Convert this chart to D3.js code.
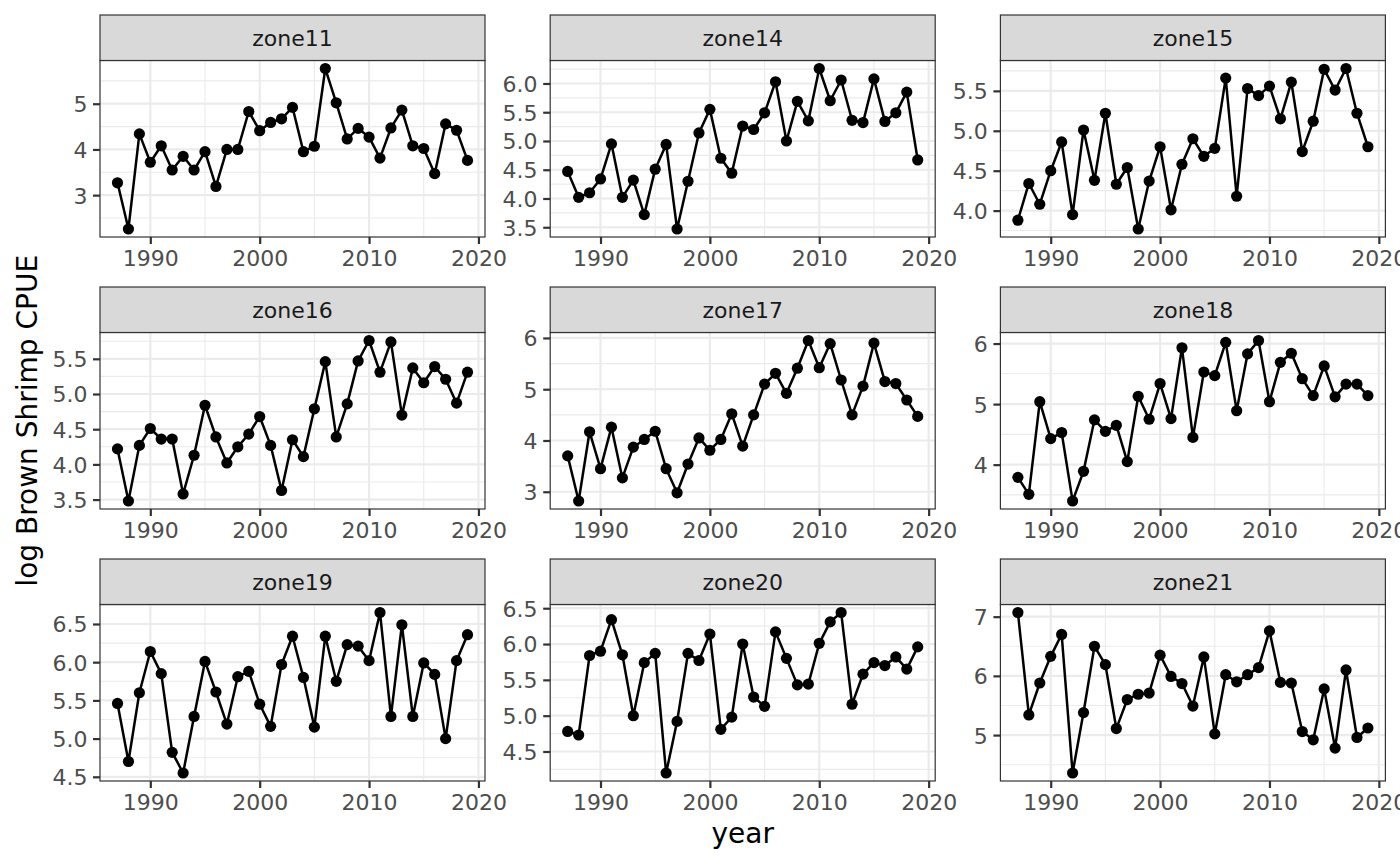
<!DOCTYPE html>
<html>
<head>
<meta charset="utf-8">
<script src="https://cdn.jsdelivr.net/npm/d3@7"></script>
<style>
  html, body { margin: 0; padding: 0; background: #ffffff; }
  svg { display: block; font-family: "DejaVu Sans", sans-serif; }
</style>
</head>
<body>
<svg id="chart" width="1400" height="865"></svg>
<script>
// ---------------- data ----------------
const years = [1987,1988,1989,1990,1991,1992,1993,1994,1995,1996,1997,1998,1999,2000,2001,2002,2003,2004,2005,2006,2007,2008,2009,2010,2011,2012,2013,2014,2015,2016,2017,2018,2019];

const zoneNames = ["zone11","zone14","zone15","zone16","zone17","zone18","zone19","zone20","zone21"];

const zone11 = [3.27,2.26,4.34,3.72,4.08,3.55,3.85,3.55,3.95,3.19,4.00,4.00,4.83,4.41,4.59,4.67,4.92,3.95,4.07,5.77,5.02,4.23,4.46,4.27,3.81,4.47,4.86,4.08,4.02,3.47,4.56,4.42,3.76];
const zone14 = [4.47,4.02,4.10,4.34,4.95,4.02,4.32,3.72,4.51,4.94,3.47,4.30,5.14,5.55,4.70,4.44,5.26,5.20,5.49,6.03,5.00,5.69,5.35,6.26,5.70,6.06,5.36,5.32,6.08,5.34,5.49,5.85,4.67];
const zone15 = [3.88,4.34,4.08,4.50,4.86,3.95,5.01,4.38,5.22,4.33,4.54,3.77,4.37,4.80,4.01,4.58,4.90,4.68,4.78,5.66,4.18,5.53,5.44,5.56,5.15,5.61,4.74,5.12,5.77,5.51,5.78,5.22,4.80];
const zone16 = [4.22,3.48,4.27,4.51,4.36,4.36,3.58,4.13,4.84,4.39,4.02,4.25,4.43,4.68,4.27,3.63,4.35,4.11,4.79,5.46,4.39,4.86,5.47,5.76,5.31,5.74,4.70,5.37,5.16,5.39,5.21,4.87,5.31];
const zone17 = [3.70,2.82,4.17,3.45,4.26,3.27,3.87,4.02,4.18,3.45,2.98,3.54,4.05,3.81,4.02,4.52,3.89,4.50,5.10,5.31,4.92,5.41,5.95,5.42,5.89,5.18,4.50,5.06,5.90,5.15,5.11,4.79,4.47];
const zone18 = [3.79,3.51,5.04,4.43,4.53,3.40,3.89,4.74,4.55,4.65,4.05,5.13,4.75,5.34,4.76,5.93,4.45,5.53,5.47,6.02,4.89,5.83,6.05,5.04,5.69,5.84,5.42,5.14,5.63,5.12,5.33,5.33,5.14];
const zone19 = [5.46,4.70,5.60,6.14,5.85,4.82,4.55,5.29,6.01,5.61,5.19,5.81,5.88,5.45,5.16,5.97,6.34,5.80,5.15,6.34,5.75,6.23,6.21,6.02,6.65,5.29,6.49,5.29,5.99,5.84,5.00,6.02,6.36];
const zone20 = [4.78,4.73,5.84,5.90,6.34,5.85,5.00,5.74,5.87,4.20,4.92,5.87,5.77,6.14,4.81,4.98,6.00,5.26,5.13,6.17,5.80,5.43,5.44,6.01,6.31,6.44,5.16,5.58,5.74,5.70,5.82,5.65,5.96];
const zone21 = [7.07,5.34,5.88,6.33,6.70,4.36,5.38,6.50,6.19,5.11,5.60,5.69,5.71,6.35,5.99,5.87,5.49,6.32,5.02,6.02,5.90,6.02,6.14,6.76,5.89,5.88,5.06,4.92,5.78,4.78,6.10,4.96,5.12];

const zoneValues = [zone11, zone14, zone15, zone16, zone17, zone18, zone19, zone20, zone21];

// y tick labels per panel (free scales)
const yTicks = [
  ["3","4","5"],
  ["3.5","4.0","4.5","5.0","5.5","6.0"],
  ["4.0","4.5","5.0","5.5"],
  ["3.5","4.0","4.5","5.0","5.5"],
  ["3","4","5","6"],
  ["4","5","6"],
  ["4.5","5.0","5.5","6.0","6.5"],
  ["4.5","5.0","5.5","6.0","6.5"],
  ["5","6","7"]
];
const xTicks = ["1990","2000","2010","2020"];
const xMinor = [1985, 1995, 2005, 2015, 2025];

const xTitle = "year";
const yTitle = "log Brown Shrimp CPUE";

// ---------------- layout ----------------
const W = 1400, H = 865;
const colLeft = [100, 550.2, 1000.4];
const panelW = 385;
const rowTop = [15, 287, 559];
const stripH = 45.5;
const panelH = 176.5;

const svg = d3.select("#chart");

function expandDomain(ext) {
  const r = ext[1] - ext[0];
  return [ext[0] - 0.05 * r, ext[1] + 0.05 * r];
}

const xExt = expandDomain(d3.extent(years));

zoneNames.forEach((name, i) => {
  const col = i % 3, row = Math.floor(i / 3);
  const px = colLeft[col];
  const sy = rowTop[row];
  const py = sy + stripH;
  const vals = zoneValues[i];

  const x = d3.scaleLinear().domain(xExt).range([px, px + panelW]);
  const y = d3.scaleLinear().domain(expandDomain(d3.extent(vals))).range([py + panelH, py]);

  const g = svg.append("g");

  // panel background
  g.append("rect").attr("x", px).attr("y", py).attr("width", panelW).attr("height", panelH)
    .attr("fill", "#ffffff");

  // minor grid (y): midpoints between major ticks, extended
  const majors = yTicks[i].map(Number);
  const step = majors[1] - majors[0];
  const yMinor = [];
  for (let k = -1; k < majors.length; k++) {
    yMinor.push(majors[0] + (k + 0.5) * step);
  }
  const [d0, d1] = y.domain();
  g.selectAll(".ymin").data(yMinor.filter(v => v >= d0 && v <= d1)).enter().append("line")
    .attr("x1", px).attr("x2", px + panelW)
    .attr("y1", d => y(d)).attr("y2", d => y(d))
    .attr("stroke", "#EBEBEB").attr("stroke-width", 1.1);
  g.selectAll(".xmin").data(xMinor.filter(v => v >= xExt[0] && v <= xExt[1])).enter().append("line")
    .attr("y1", py).attr("y2", py + panelH)
    .attr("x1", d => x(d)).attr("x2", d => x(d))
    .attr("stroke", "#EBEBEB").attr("stroke-width", 1.1);

  // major grid
  g.selectAll(".ymaj").data(majors).enter().append("line")
    .attr("x1", px).attr("x2", px + panelW)
    .attr("y1", d => y(d)).attr("y2", d => y(d))
    .attr("stroke", "#EBEBEB").attr("stroke-width", 2.2);
  g.selectAll(".xmaj").data(xTicks.map(Number)).enter().append("line")
    .attr("y1", py).attr("y2", py + panelH)
    .attr("x1", d => x(d)).attr("x2", d => x(d))
    .attr("stroke", "#EBEBEB").attr("stroke-width", 2.2);

  // data line
  const pts = years.map((yr, k) => ({ yr, v: vals[k] }));
  g.append("path").datum(pts)
    .attr("fill", "none").attr("stroke", "#000000").attr("stroke-width", 2.5)
    .attr("stroke-linejoin", "round")
    .attr("d", d3.line().x(d => x(d.yr)).y(d => y(d.v)));
  g.selectAll(".pt").data(pts).enter().append("circle")
    .attr("cx", d => x(d.yr)).attr("cy", d => y(d.v)).attr("r", 5.6)
    .attr("fill", "#000000");

  // panel border
  g.append("rect").attr("x", px).attr("y", py).attr("width", panelW).attr("height", panelH)
    .attr("fill", "none").attr("stroke", "#333333").attr("stroke-width", 1.2);

  // strip
  g.append("rect").attr("x", px).attr("y", sy).attr("width", panelW).attr("height", stripH)
    .attr("fill", "#D9D9D9").attr("stroke", "#333333").attr("stroke-width", 1.2);
  g.append("text").attr("x", px + panelW / 2).attr("y", sy + stripH / 2)
    .attr("dy", "0.36em").attr("text-anchor", "middle")
    .attr("font-size", 22).attr("fill", "#1A1A1A").text(name);

  // y axis
  const yAxis = d3.axisLeft(y).tickValues(majors).tickSize(7).tickPadding(5.6)
    .tickFormat((d, k) => yTicks[i][k]);
  const ya = g.append("g").attr("transform", `translate(${px},0)`).call(yAxis);
  ya.select(".domain").remove();
  ya.selectAll(".tick line").attr("stroke", "#333333").attr("stroke-width", 2.2);
  ya.selectAll(".tick text").attr("font-size", 22).attr("fill", "#4D4D4D")
    .attr("font-family", "DejaVu Sans, sans-serif").attr("dy", "0.36em");

  // x axis
  const xAxis = d3.axisBottom(x).tickValues(xTicks.map(Number)).tickSize(7).tickPadding(5.6)
    .tickFormat((d, k) => xTicks[k]);
  const xa = g.append("g").attr("transform", `translate(0,${py + panelH})`).call(xAxis);
  xa.select(".domain").remove();
  xa.selectAll(".tick line").attr("stroke", "#333333").attr("stroke-width", 2.2);
  xa.selectAll(".tick text").attr("font-size", 22).attr("fill", "#4D4D4D")
    .attr("font-family", "DejaVu Sans, sans-serif").attr("dy", "0.76em");
});

// axis titles
const panelsLeft = colLeft[0], panelsRight = colLeft[2] + panelW;
svg.append("text").attr("x", (panelsLeft + panelsRight) / 2).attr("y", 843)
  .attr("text-anchor", "middle").attr("font-size", 28).attr("fill", "#000000").text(xTitle);

const yCenter = (rowTop[0] + stripH + rowTop[2] + stripH + panelH) / 2;
svg.append("text")
  .attr("transform", `translate(37,${yCenter}) rotate(-90)`)
  .attr("text-anchor", "middle").attr("font-size", 28).attr("fill", "#000000").text(yTitle);
</script>
</body>
</html>
